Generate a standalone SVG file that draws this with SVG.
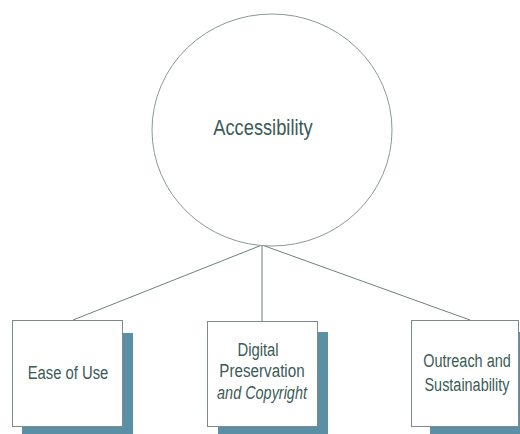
<svg xmlns="http://www.w3.org/2000/svg" width="520" height="434" viewBox="0 0 520 434">
  <style>
    .shadow { fill: #5b8fa6; }
    .box { fill: #ffffff; stroke: #7d8a88; stroke-width: 1; }
    .hub { fill: #ffffff; stroke: #8a9996; stroke-width: 1; }
    .link { stroke: #6f7f7c; stroke-width: 1; fill: none; }
    text { font-family: "Liberation Sans", Arial, sans-serif; fill: #3b5b56; text-anchor: middle; }
    .main { font-size: 22px; }
    .label { font-size: 19px; }
  </style>
  <rect width="520" height="434" fill="#ffffff"/>

  <!-- connectors from the hub to the three areas -->
  <g id="connectors">
    <line class="link" x1="262" y1="245" x2="73" y2="320"/>
    <line class="link" x1="262" y1="245" x2="262" y2="321"/>
    <line class="link" x1="262" y1="245" x2="470" y2="320"/>
  </g>

  <g id="accessibility">
    <ellipse class="hub" cx="272" cy="130" rx="120" ry="116"/>
    <text class="main" transform="translate(263 135) scale(0.83 1)">Accessibility</text>
  </g>

  <!-- labels use a narrowed face: horizontal scale on each line -->
  <g id="ease-of-use">
    <rect class="shadow" x="22" y="333" width="111" height="110"/>
    <rect class="box" x="12.5" y="320.5" width="110" height="106"/>
    <text class="label" transform="translate(68 379) scale(0.78 1)">Ease of Use</text>
  </g>

  <g id="digital-preservation">
    <rect class="shadow" x="218" y="332" width="110" height="110"/>
    <rect class="box" x="207.5" y="321.5" width="110" height="105"/>
    <text class="label" transform="translate(258 356) scale(0.78 1)">Digital</text>
    <text class="label" transform="translate(262 377) scale(0.8 1)">Preservation</text>
    <text class="label" font-style="italic" transform="translate(262 399) scale(0.76 1)">and Copyright</text>
  </g>

  <g id="outreach">
    <rect class="shadow" x="430" y="332" width="100" height="110"/>
    <rect class="box" x="411.5" y="320.5" width="107" height="106"/>
    <text class="label" transform="translate(467 367) scale(0.76 1)">Outreach and</text>
    <text class="label" transform="translate(467 391) scale(0.76 1)">Sustainability</text>
  </g>
</svg>
